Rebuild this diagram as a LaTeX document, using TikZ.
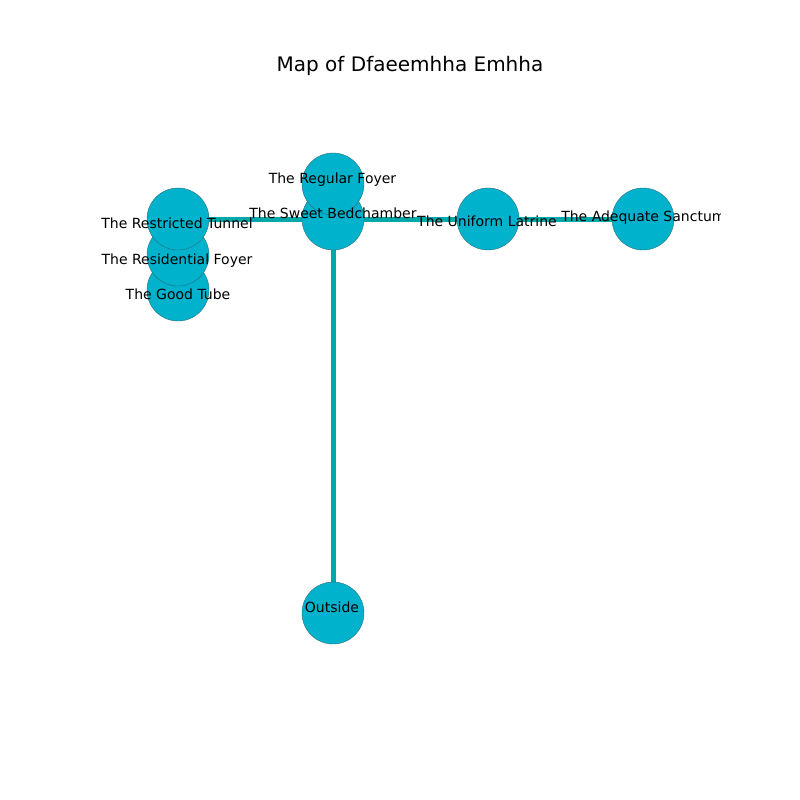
\documentclass[tikz,border=0pt]{standalone}
\usepackage{fontspec}
\setmainfont{DejaVu Sans}
\definecolor{nodefill}{RGB}{0,178,204}
\definecolor{nodeline}{RGB}{40,110,125}
\definecolor{edgecol}{RGB}{0,168,170}
\begin{document}
\begin{tikzpicture}[x=0.75pt,y=-0.75pt,
  room/.style={circle,fill=nodefill,draw=nodeline,line width=0.3pt,minimum size=46.5pt,inner sep=0pt},
  roomlabel/.style={font=\fontsize{10.5pt}{12pt}\selectfont,inner sep=0pt,text height=0.74em,text depth=0.2em},
  passage/.style={draw=edgecol,line width=3.75pt}]
\useasboundingbox[fill=white] (0,0) rectangle (800,800);
\node[font=\fontsize{15pt}{18pt}\selectfont,inner sep=0pt,text height=0.74em,text depth=0.2em] (title) at (410,68) {Map of Dfaeemhha Emhha};
\begin{scope}
\clip (100,96) rectangle (720,712);
% coordinates of the rooms
\coordinate (pT) at (178,219);
\coordinate (pB) at (333,219);
\coordinate (pL) at (488,219);
\coordinate (pA) at (643,219);
\coordinate (pO) at (333,613);
% passages
\draw[passage] (pT) -- (pB);
\draw[passage] (pB) -- (pL);
\draw[passage] (pL) -- (pA);
\draw[passage] (pB) -- (pO);
% rooms
\node[room] (good) at (178,290) {};
\node[room] (resid) at (178,255) {};
\node[room] (tunnel) at (pT) {};
\node[room] (bed) at (pB) {};
\node[room] (regular) at (333,184) {};
\node[room] (latrine) at (pL) {};
\node[room] (sanctum) at (pA) {};
\node[room] (outside) at (pO) {};
% labels
\node[roomlabel] (lTunnel) at (177,225) {The Restricted Tunnel};
\node[roomlabel] (lResid) at (177,261) {The Residential Foyer};
\node[roomlabel] (lGood) at (178,296) {The Good Tube};
\node[roomlabel] (lRegular) at (332.5,180) {The Regular Foyer};
\node[roomlabel] (lBed) at (333,215) {The Sweet Bedchamber};
\node[roomlabel] (lLatrine) at (487,223) {The Uniform Latrine};
\node[roomlabel,anchor=west] (lSanctum) at (561,218) {The Adequate Sanctum};
\node[roomlabel] (lOutside) at (332,609) {Outside};
\end{scope}
\end{tikzpicture}
\end{document}
